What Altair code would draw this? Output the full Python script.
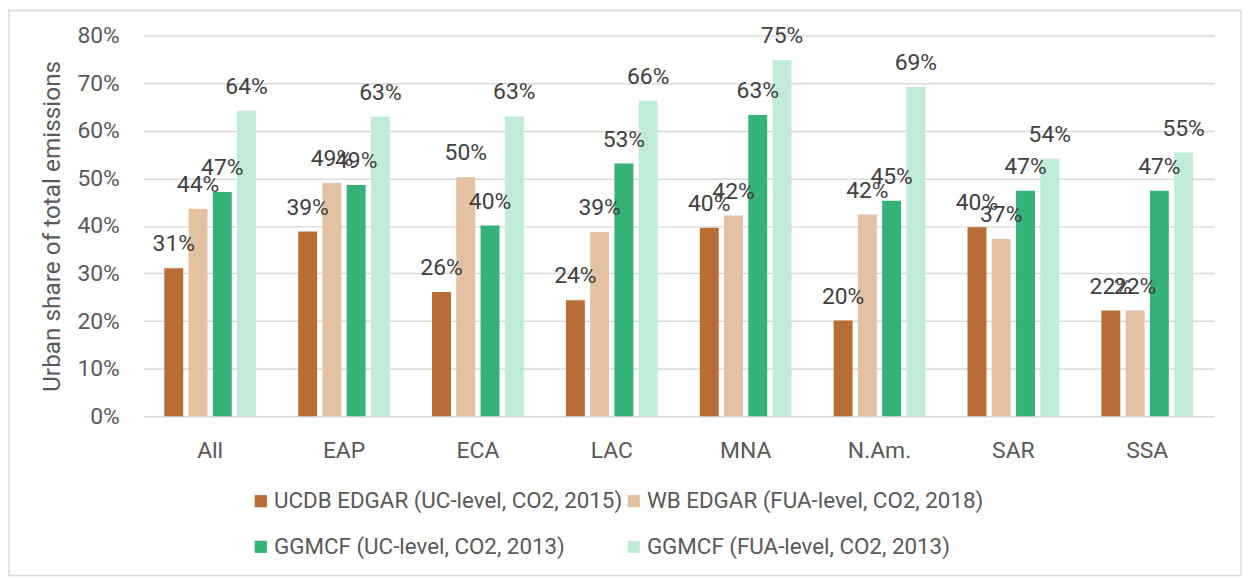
import altair as alt
import pandas as pd

regions = ["All", "EAP", "ECA", "LAC", "MNA", "N.Am.", "SAR", "SSA"]
series = [
    "UCDB EDGAR (UC-level, CO2, 2015)",
    "WB EDGAR (FUA-level, CO2, 2018)",
    "GGMCF (UC-level, CO2, 2013)",
    "GGMCF (FUA-level, CO2, 2013)",
]
ucdb_edgar = [31.1, 38.8, 26.1, 24.4, 39.6, 20.1, 39.7, 22.2]
wb_edgar = [43.6, 49.0, 50.2, 38.7, 42.2, 42.4, 37.3, 22.2]
ggmcf_uc = [47.1, 48.6, 40.1, 53.1, 63.3, 45.3, 47.4, 47.4]
ggmcf_fua = [64.2, 62.9, 63.0, 66.3, 74.8, 69.2, 54.1, 55.4]
colors = ["#B86D35", "#E5C1A3", "#34B277", "#C0ECD7"]
y_ticks = [0, 10, 20, 30, 40, 50, 60, 70, 80]
y_title = "Urban share of total emissions"

rows = []
for s, vals in zip(series, [ucdb_edgar, wb_edgar, ggmcf_uc, ggmcf_fua]):
    for r, v in zip(regions, vals):
        rows.append({"region": r, "series": s, "value": v, "label": f"{round(v)}%"})
df = pd.DataFrame(rows)

FONT = "Roboto"
GRAY = "#595959"
FS = 23

x_enc = alt.X(
    "region:N",
    sort=regions,
    scale=alt.Scale(paddingInner=0.275, paddingOuter=0.1375),
    axis=alt.Axis(
        title=None, labelAngle=0, ticks=False, domain=False, labelPadding=23,
        labelFontSize=FS, labelFont=FONT, labelColor=GRAY,
    ),
)
xoff_enc = alt.XOffset("series:N", sort=series,
                       scale=alt.Scale(paddingInner=0.22, paddingOuter=0.11))
y_enc = alt.Y(
    "value:Q",
    scale=alt.Scale(domain=[0, 80]),
    axis=alt.Axis(
        values=y_ticks, labelExpr="datum.value + '%'", title=y_title,
        ticks=False, domain=False, labelPadding=24, labelFontSize=FS,
        labelFont=FONT, labelColor=GRAY, gridColor="#D9D9D9", gridWidth=1.5,
        titleX=-91, titleY=191.5, titleAngle=270, titleAlign="center",
        titleBaseline="middle", titleFontSize=24.5, titleFont=FONT,
        titleFontWeight="normal", titleColor=GRAY,
    ),
)

bars = alt.Chart(df).mark_bar().encode(
    x=x_enc,
    xOffset=xoff_enc,
    y=y_enc,
    color=alt.Color(
        "series:N",
        sort=series,
        scale=alt.Scale(domain=series, range=colors),
        legend=alt.Legend(
            title=None, orient="none", direction="horizontal",
            legendX=107, legendY=457, columns=2,
            symbolType="square", symbolSize=150, symbolStrokeWidth=0,
            labelFontSize=22.5, labelFont=FONT,
            labelColor=GRAY, labelLimit=500, rowPadding=23, columnPadding=0,
            labelOffset=2, padding=0,
        ),
    ),
)

labels = alt.Chart(df).mark_text(
    dy=-17, baseline="alphabetic", fontSize=FS, font=FONT, color="#404040"
).encode(
    x=alt.X("region:N", sort=regions),
    xOffset=alt.XOffset("series:N", sort=series),
    y=alt.Y("value:Q"),
    text="label:N",
)

border = alt.Chart(pd.DataFrame({"a": [0]})).mark_rect(
    fillOpacity=0, stroke="#D9D9D9", strokeWidth=1.5
).encode(
    x=alt.value(-135), x2=alt.value(1104), y=alt.value(-25), y2=alt.value(543)
)

chart = alt.layer(border, bars, labels).properties(
    width=1077,
    height=383,
    autosize=alt.AutoSizeParams(type="none"),
    padding={"left": 136, "top": 26, "right": 28, "bottom": 161},
).configure_view(strokeWidth=0)

chart.save("out.html", embed_options={"renderer": "svg", "actions": False})
